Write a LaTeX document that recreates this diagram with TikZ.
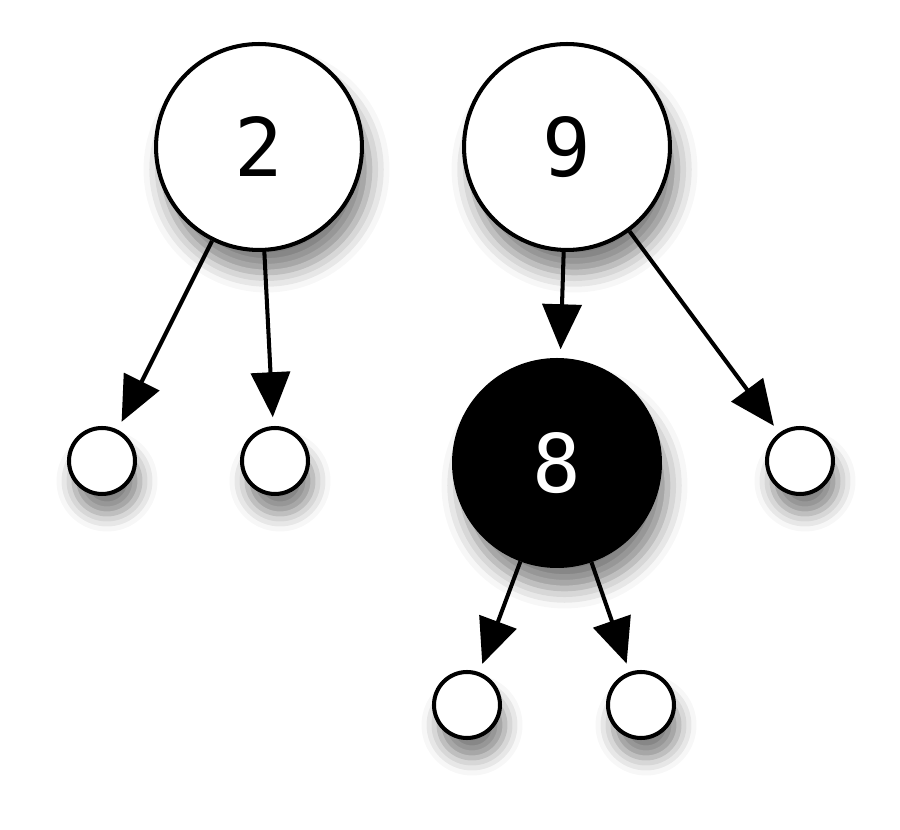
\documentclass[tikz,border=0pt]{standalone}
\usepackage{fontspec}
\setmainfont{DejaVu Sans Mono}
\usetikzlibrary{arrows.meta}
\usetikzlibrary{shadows.blur}
\tikzset{
  keynode/.style= {
    circle,
    draw,
    line width = 2.3pt,
    minimum size = 4.12cm,
    inner sep = 0pt,
    font = \fontsize{46}{46}\selectfont,
    blur shadow = {shadow xshift=0.15cm, shadow yshift=-0.45cm, shadow blur radius=0.4cm, shadow opacity=50}
  },
  whitenode/.style= {keynode, fill = white},
  blacknode/.style= {keynode, fill = black, text = white},
  leafnode/.style= {
    circle,
    draw,
    fill = white,
    line width = 2.3pt,
    minimum size = 1.32cm,
    inner sep = 0pt,
    blur shadow = {shadow xshift=0.1cm, shadow yshift=-0.4cm, shadow blur radius=0.35cm, shadow opacity=50}
  },
  treearrow/.style= {
    line width = 2.3pt,
    -{Triangle[length=0.9cm,width=0.78cm]},
    shorten > = 5pt
  }
}
\begin{document}
\begin{tikzpicture}[x=0.02cm,y=-0.02cm]
  \useasboundingbox (0,0) rectangle (900,830);

  % top keys
  \node[whitenode] (two) at (259,147) {2};
  \node[whitenode] (nine) at (567,147) {9};

  % inner key
  \node[blacknode] (eight) at (557,463) {8};

  % leaves
  \node[leafnode] (leafA) at (102,461) {};
  \node[leafnode] (leafB) at (275,461) {};
  \node[leafnode] (leafC) at (800,461) {};
  \node[leafnode] (leafD) at (467,705) {};
  \node[leafnode] (leafE) at (641,705) {};

  \draw[treearrow] (two) -- (leafA);
  \draw[treearrow] (two) -- (leafB);
  \draw[treearrow] (nine) -- (eight);
  \draw[treearrow] (nine) -- (leafC);
  \draw[treearrow] (eight) -- (leafD);
  \draw[treearrow] (eight) -- (leafE);

\end{tikzpicture}
\end{document}
